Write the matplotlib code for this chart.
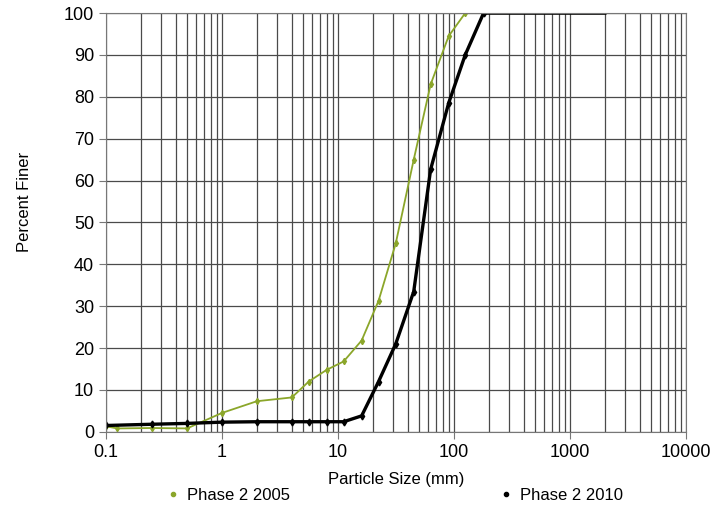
import matplotlib.pyplot as plt
import numpy as np
from matplotlib.ticker import LogLocator, FixedLocator, NullFormatter

# sieve sizes (mm) and percent finer
size_2005 = [0.1, 0.125, 0.25, 0.5, 1, 2, 4, 5.6, 8, 11.2, 16, 22.4, 31.5, 45, 63, 90, 125, 3000]
finer_2005 = [1.3, 0.8, 0.9, 0.8, 4.5, 7.3, 8.2, 12, 14.8, 16.8, 21.8, 31.3, 45, 65, 83, 94.5, 100, 100]

size_2010 = [0.1, 0.25, 0.5, 1, 2, 4, 5.6, 8, 11.2, 16, 22.4, 31.5, 45, 63, 90, 125, 180, 2000]
finer_2010 = [1.5, 1.8, 2.0, 2.3, 2.4, 2.4, 2.4, 2.4, 2.4, 3.8, 12, 21, 33.5, 62.7, 78.5, 90, 100, 100]

labels = ['Phase 2 2005', 'Phase 2 2010']
xticks = [0.1, 1, 10, 100, 1000, 10000]
xticklabels = ['0.1', '1', '10', '100', '1000', '10000']

plt.rcParams['font.family'] = ['Liberation Sans', 'DejaVu Sans']

fig = plt.figure(figsize=(7.16, 5.05), dpi=100)
ax = fig.add_axes([0.148, 0.145, 0.81, 0.829])

ax.plot(size_2005, finer_2005, color='#8ba62a', lw=1.3, marker='d', ms=3.2,
        markevery=slice(0, len(size_2005) - 1), label=labels[0])
ax.plot(size_2010, finer_2010, color='black', lw=2.4, marker='d', ms=3.5,
        markevery=slice(0, len(size_2010) - 1), label=labels[1])

ax.set_xscale('log')
ax.set_xlim(0.1, 10000)
ax.set_ylim(0, 100)
ax.set_yticks(np.arange(0, 101, 10))
ax.xaxis.set_major_locator(FixedLocator(xticks))
ax.set_xticklabels(xticklabels)
ax.xaxis.set_minor_locator(LogLocator(base=10, subs=np.arange(2, 10), numticks=20))
ax.xaxis.set_minor_formatter(NullFormatter())
ax.tick_params(axis='x', which='minor', length=0)
ax.tick_params(axis='both', which='major', labelsize=13, color='#777777', length=5)

ax.grid(True, which='both', axis='x', color='#4a4a4a', lw=0.9)
ax.grid(True, which='major', axis='y', color='#4a4a4a', lw=0.9)
for s in ax.spines.values():
    s.set_color('#777777')

ax.set_xlabel('Particle Size (mm)', fontsize=12, labelpad=8)
ax.set_ylabel('Percent Finer', fontsize=12)
ax.yaxis.set_label_coords(-0.128, 0.55)

handles = [plt.Line2D([], [], ls='', marker='o', ms=3, color='#8ba62a'),
           plt.Line2D([], [], ls='', marker='o', ms=3, color='black')]
fig.legend(handles, labels, loc='lower center', bbox_to_anchor=(0.55, -0.025),
           ncol=2, frameon=False, fontsize=12, columnspacing=12.5,
           handletextpad=0.3, handlelength=1)

fig.savefig('out.png', dpi=100)
